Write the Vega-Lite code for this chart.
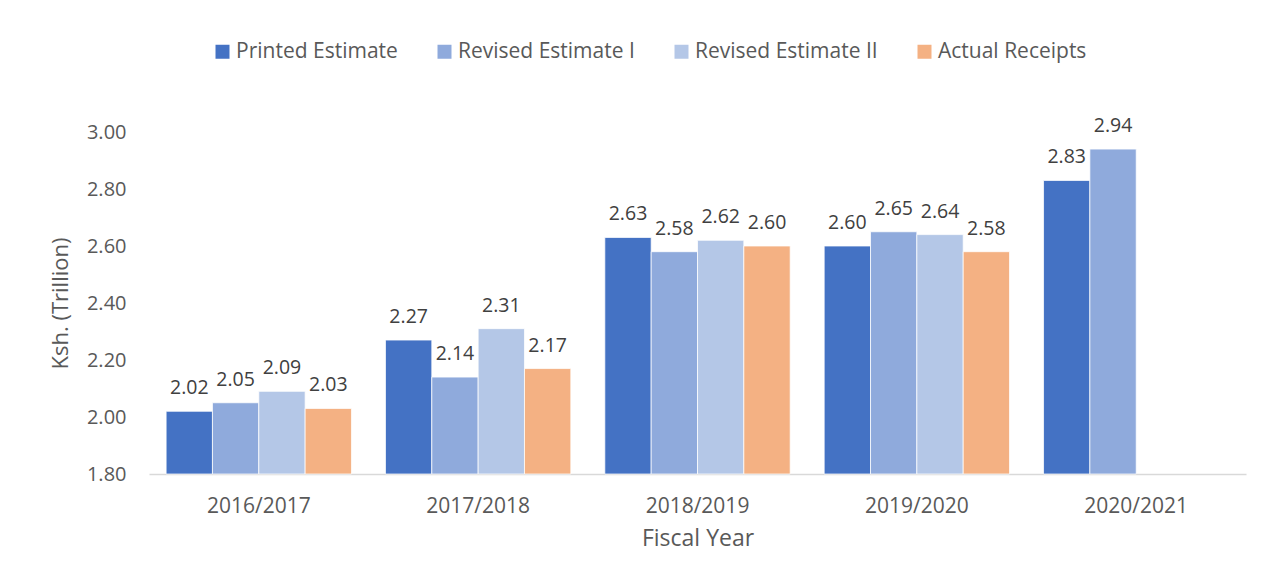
{
  "$schema": "https://vega.github.io/schema/vega-lite/v6.json",
  "width": 1097,
  "height": 342,
  "autosize": {"type": "none"},
  "padding": {"left": 149, "top": 132, "right": 17, "bottom": 109},
  "background": "white",
  "config": {
    "view": {"stroke": null},
    "font": "Open Sans",
    "axis": {"labelFont": "Open Sans", "titleFont": "Open Sans", "titleFontWeight": "normal"}
  },
  "data": {
    "values": [
      {"year": "2016/2017", "series": "Printed Estimate", "value": 2.02},
      {"year": "2016/2017", "series": "Revised Estimate I", "value": 2.05},
      {"year": "2016/2017", "series": "Revised Estimate II", "value": 2.09},
      {"year": "2016/2017", "series": "Actual Receipts", "value": 2.03},
      {"year": "2017/2018", "series": "Printed Estimate", "value": 2.27},
      {"year": "2017/2018", "series": "Revised Estimate I", "value": 2.14},
      {"year": "2017/2018", "series": "Revised Estimate II", "value": 2.31},
      {"year": "2017/2018", "series": "Actual Receipts", "value": 2.17},
      {"year": "2018/2019", "series": "Printed Estimate", "value": 2.63},
      {"year": "2018/2019", "series": "Revised Estimate I", "value": 2.58},
      {"year": "2018/2019", "series": "Revised Estimate II", "value": 2.62},
      {"year": "2018/2019", "series": "Actual Receipts", "value": 2.60},
      {"year": "2019/2020", "series": "Printed Estimate", "value": 2.60},
      {"year": "2019/2020", "series": "Revised Estimate I", "value": 2.65},
      {"year": "2019/2020", "series": "Revised Estimate II", "value": 2.64},
      {"year": "2019/2020", "series": "Actual Receipts", "value": 2.58},
      {"year": "2020/2021", "series": "Printed Estimate", "value": 2.83},
      {"year": "2020/2021", "series": "Revised Estimate I", "value": 2.94}
    ]
  },
  "encoding": {
    "x": {
      "field": "year", "type": "nominal",
      "scale": {"paddingInner": 0.155, "paddingOuter": 0.078},
      "axis": {
        "title": "Fiscal Year", "titleFontSize": 23, "titleColor": "#595959", "titlePadding": 11,
        "labelAngle": 0, "labelFontSize": 21, "labelColor": "#595959", "labelPadding": 21,
        "ticks": false, "domainColor": "#D9D9D9", "domainWidth": 1.5, "grid": false
      }
    },
    "xOffset": {
      "field": "series", "type": "nominal",
      "scale": {"domain": ["Printed Estimate", "Revised Estimate I", "Revised Estimate II", "Actual Receipts"], "paddingInner": 0, "paddingOuter": 0}
    },
    "y": {
      "field": "value", "type": "quantitative",
      "scale": {"domain": [1.8, 3.0], "nice": false, "zero": false},
      "axis": {
        "title": "Ksh. (Trillion)", "titleFontSize": 22, "titleColor": "#595959", "titlePadding": 14,
        "values": [1.8, 2.0, 2.2, 2.4, 2.6, 2.8, 3.0], "format": ".2f",
        "labelFontSize": 20, "labelColor": "#595959", "labelPadding": 23,
        "ticks": false, "domain": false, "grid": false
      }
    }
  },
  "layer": [
    {
      "mark": {"type": "bar", "stroke": "white", "strokeWidth": 0.75},
      "encoding": {
        "y2": {"datum": 1.8},
        "color": {
          "field": "series", "type": "nominal",
          "scale": {
            "domain": ["Printed Estimate", "Revised Estimate I", "Revised Estimate II", "Actual Receipts"],
            "range": ["#4472C4", "#8FAADC", "#B4C7E7", "#F4B183"]
          },
          "legend": {
            "title": null, "orient": "none", "direction": "horizontal",
            "legendX": 63, "legendY": -91,
            "labelFontSize": 21, "labelColor": "#595959", "labelFont": "Open Sans", "labelLimit": 400,
            "symbolType": "square", "symbolSize": 196, "symbolStrokeWidth": 0,
            "columnPadding": 36, "labelOffset": 3
          }
        }
      }
    },
    {
      "mark": {"type": "text", "dy": -17, "baseline": "alphabetic", "fontSize": 19.5, "color": "#404040"},
      "encoding": {
        "text": {"field": "value", "type": "quantitative", "format": ".2f"}
      }
    }
  ]
}
